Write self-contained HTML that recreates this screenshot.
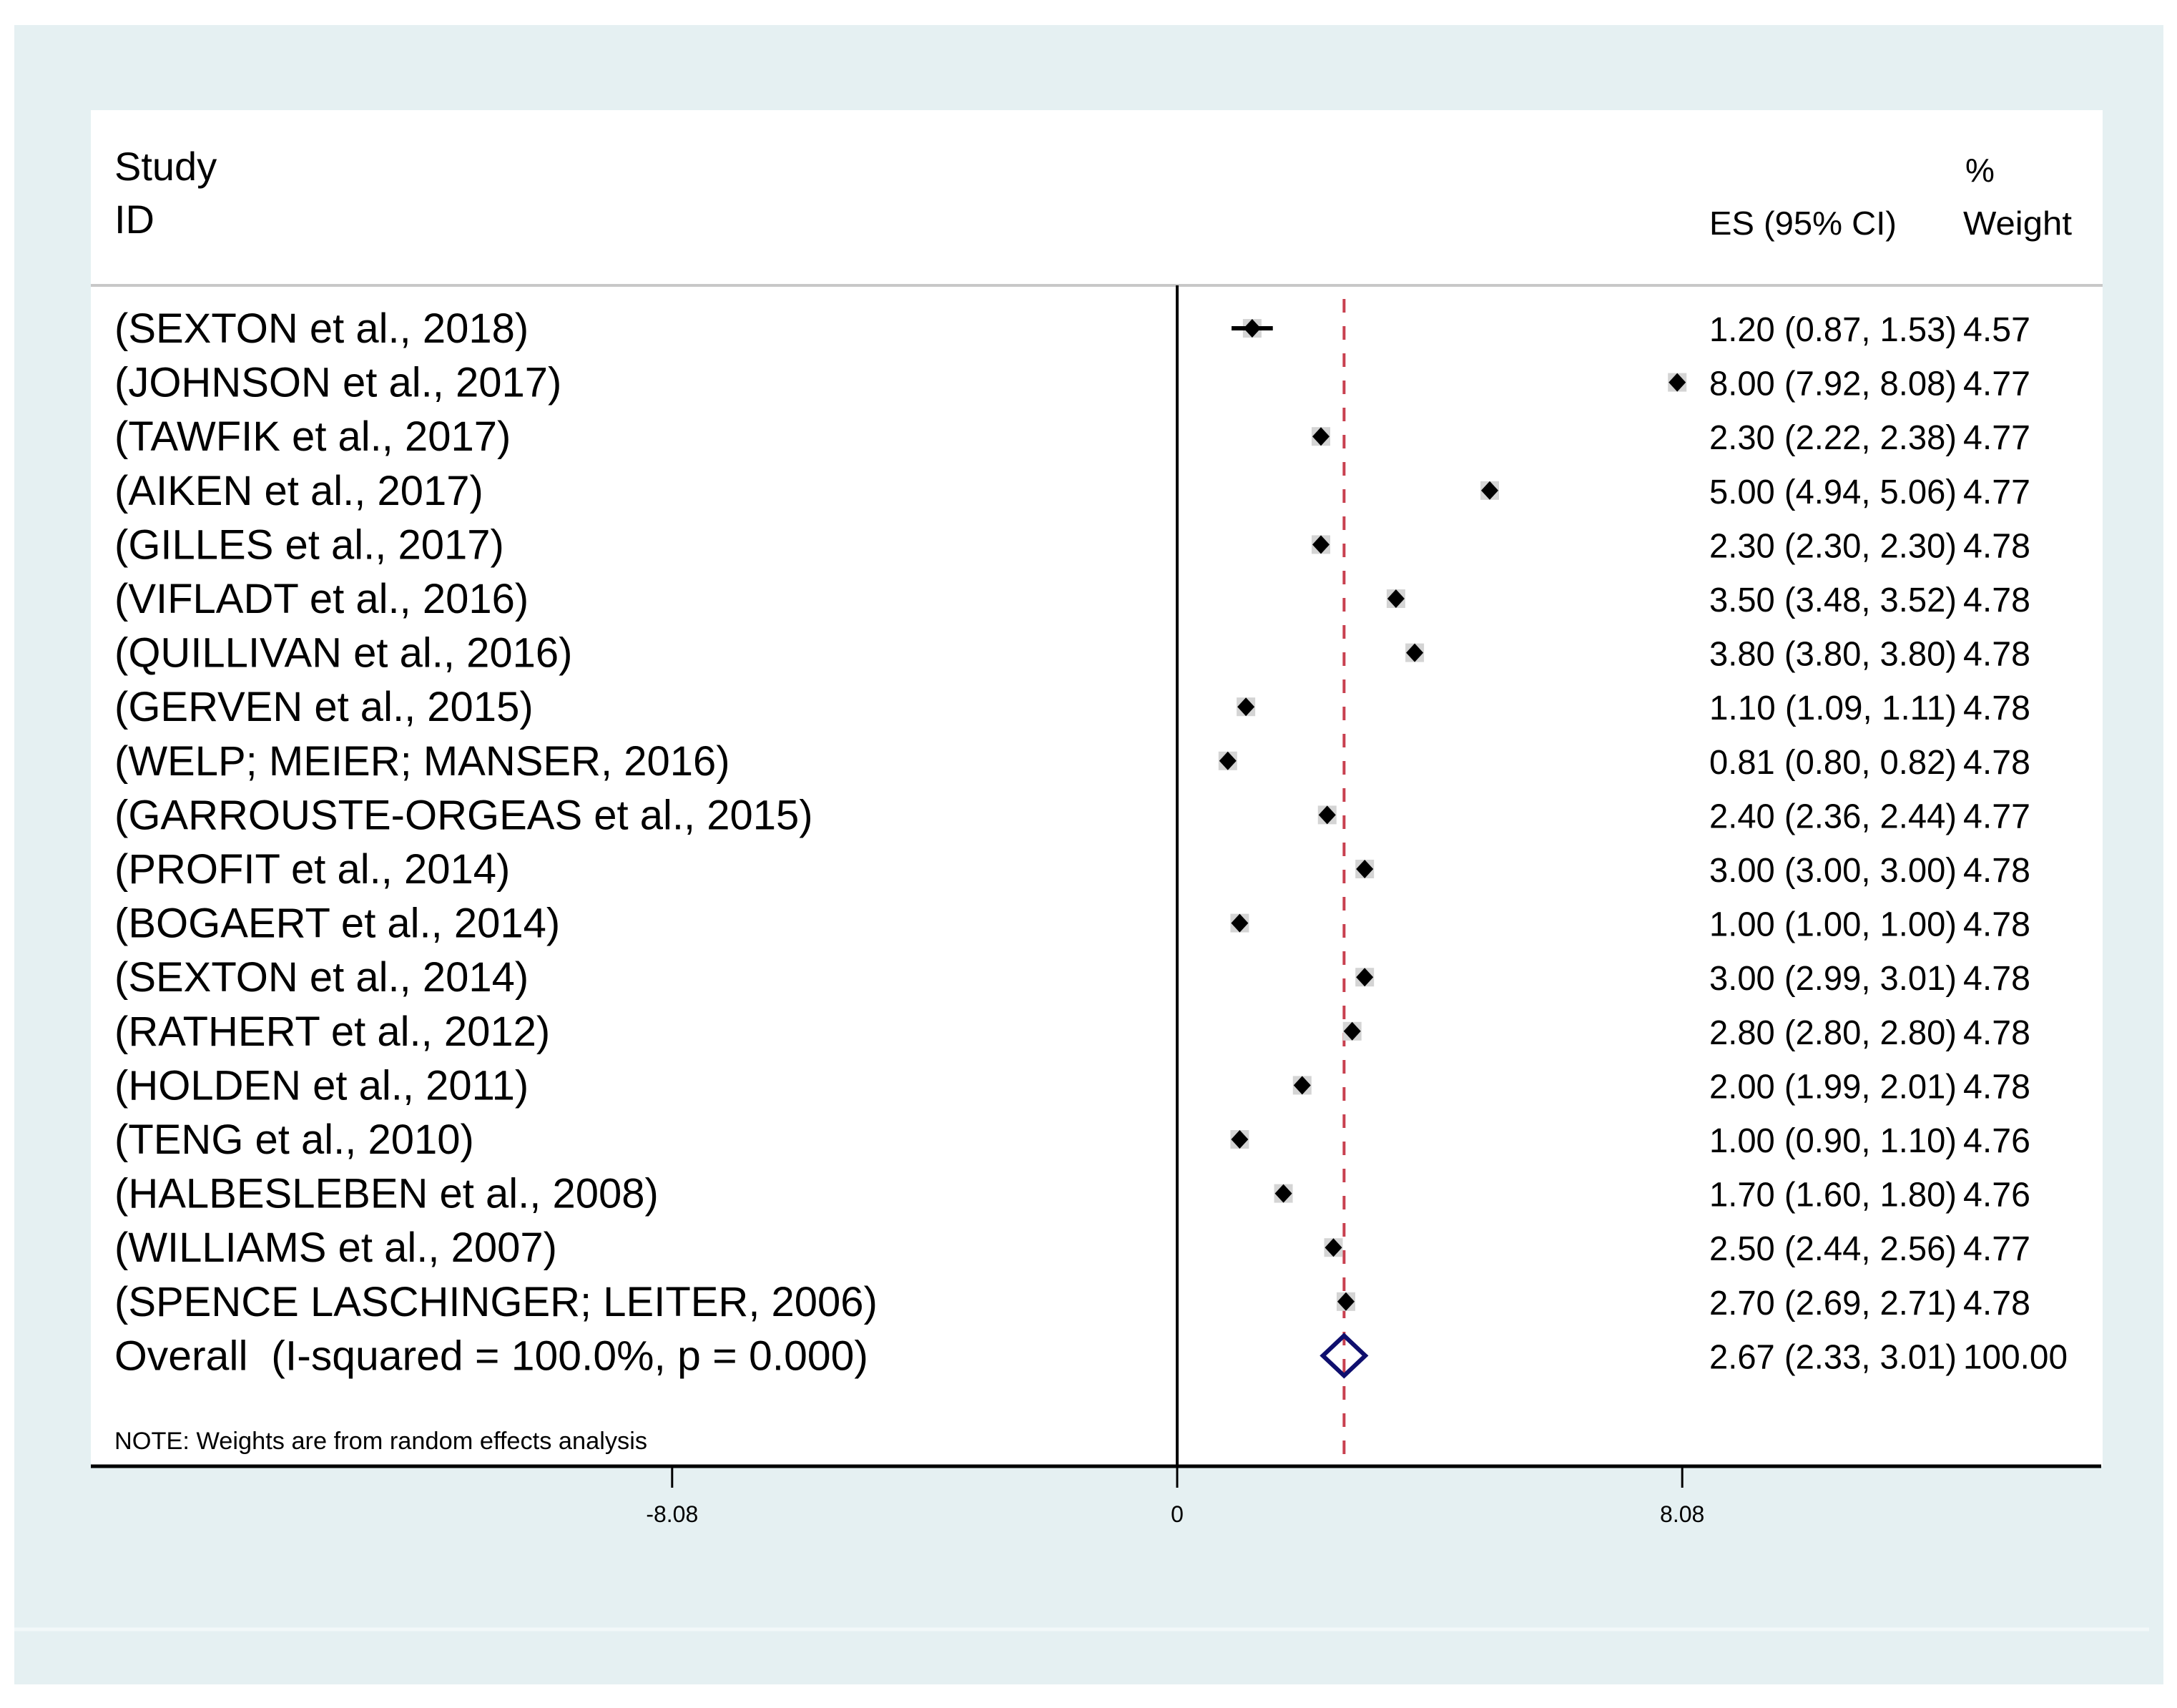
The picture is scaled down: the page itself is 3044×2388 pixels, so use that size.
<!DOCTYPE html>
<html><head><meta charset="utf-8"><style>
html,body{margin:0;padding:0;background:#fff;}
svg{display:block;font-family:"Liberation Sans",Arial,sans-serif;}
</style></head><body>
<svg id="chart" width="3044" height="2388" viewBox="0 0 3044 2388" xmlns="http://www.w3.org/2000/svg">
<rect x="20" y="35" width="3005" height="2320" fill="#e5f0f2"/>
<line x1="20" y1="2278" x2="3005" y2="2278" stroke="#f2f8f9" stroke-width="5"/>
<rect x="127" y="154" width="2813" height="1896" fill="#ffffff"/>
<line x1="127" y1="399" x2="2940" y2="399" stroke="#c8c8c8" stroke-width="4"/>
<text x="160" y="252" font-size="56" fill="#000">Study</text>
<text x="160" y="326" font-size="56" fill="#000">ID</text>
<text x="2748" y="254" font-size="46" fill="#000">%</text>
<text x="2390" y="328" font-size="46" fill="#000" textLength="262" lengthAdjust="spacingAndGlyphs">ES (95% CI)</text>
<text x="2745" y="328" font-size="46" fill="#000" textLength="152" lengthAdjust="spacingAndGlyphs">Weight</text>
<g id="marks"></g>
<text x="160" y="2026" font-size="34" fill="#000" textLength="745" lengthAdjust="spacingAndGlyphs">NOTE: Weights are from random effects analysis</text>
</svg>
<script>
const studies = ["(SEXTON et al., 2018)","(JOHNSON et al., 2017)","(TAWFIK et al., 2017)","(AIKEN et al., 2017)","(GILLES et al., 2017)","(VIFLADT et al., 2016)","(QUILLIVAN et al., 2016)","(GERVEN et al., 2015)","(WELP; MEIER; MANSER, 2016)","(GARROUSTE-ORGEAS et al., 2015)","(PROFIT et al., 2014)","(BOGAERT et al., 2014)","(SEXTON et al., 2014)","(RATHERT et al., 2012)","(HOLDEN et al., 2011)","(TENG et al., 2010)","(HALBESLEBEN et al., 2008)","(WILLIAMS et al., 2007)","(SPENCE LASCHINGER; LEITER, 2006)"];
const es = [1.20,8.00,2.30,5.00,2.30,3.50,3.80,1.10,0.81,2.40,3.00,1.00,3.00,2.80,2.00,1.00,1.70,2.50,2.70];
const lo = [0.87,7.92,2.22,4.94,2.30,3.48,3.80,1.09,0.80,2.36,3.00,1.00,2.99,2.80,1.99,0.90,1.60,2.44,2.69];
const hi = [1.53,8.08,2.38,5.06,2.30,3.52,3.80,1.11,0.82,2.44,3.00,1.00,3.01,2.80,2.01,1.10,1.80,2.56,2.71];
const weights = ["4.57","4.77","4.77","4.77","4.78","4.78","4.78","4.78","4.78","4.77","4.78","4.78","4.78","4.78","4.78","4.76","4.76","4.77","4.78"];
const overallEs = 2.67, overallLo = 2.33, overallHi = 3.01;
const overallLabel = "Overall\u00a0\u00a0(I-squared = 100.0%, p = 0.000)";
const overallWeight = "100.00";
const ticks = [-8.08, 0, 8.08];
const tickLabels = ["-8.08","0","8.08"];

const NS = "http://www.w3.org/2000/svg";
const g = document.getElementById("marks");
const x0 = 1646, unit = 87.4;
const X = v => x0 + v * unit;
const rowY0 = 459, rowStep = 75.6;
const Y = i => rowY0 + i * rowStep;
function mk(tag, attrs, parent){const e=document.createElementNS(NS,tag);for(const k in attrs)e.setAttribute(k,attrs[k]);(parent||g).appendChild(e);return e;}
function fmt(v){return v.toFixed(2);}

let el = mk("line",{x1:X(0),y1:399,x2:X(0),y2:2050,stroke:"#000","stroke-width":4});


el = mk("line",{x1:X(overallEs),y1:418,x2:X(overallEs),y2:2050,stroke:"#c8404f","stroke-width":4,"stroke-dasharray":"19 19"});



studies.forEach((s,i)=>{
  const y = Y(i);
  let t = mk("text",{x:160,y:y+20,"font-size":58,fill:"#000"}); t.textContent=s;
  
  
  let box = mk("rect",{x:X(es[i])-13,y:y-13,width:26,height:26,fill:"#d4d4d4"});
  
  
  let ci = mk("line",{x1:X(lo[i]),y1:y,x2:X(hi[i]),y2:y,stroke:"#000","stroke-width":6});
  
  
  const cx = X(es[i]);
  let pt = mk("polygon",{points:`${cx},${y-13} ${cx+12},${y} ${cx},${y+13} ${cx-12},${y}`,fill:"#000"});
  
  
  let e2 = mk("text",{x:2390,y:y+18,"font-size":48,fill:"#000",textLength:346,lengthAdjust:"spacingAndGlyphs"}); e2.textContent=`${fmt(es[i])} (${fmt(lo[i])}, ${fmt(hi[i])})`;
  
  
  let w = mk("text",{x:2745,y:y+18,"font-size":48,fill:"#000",textLength:94,lengthAdjust:"spacingAndGlyphs"}); w.textContent=weights[i];
  
  
});

const oy = Y(studies.length);
let ol = mk("text",{x:160,y:oy+20,"font-size":58,fill:"#000",textLength:1054,lengthAdjust:"spacingAndGlyphs"}); ol.textContent=overallLabel;


let dia = mk("polygon",{points:`${X(overallLo)},${oy} ${X(overallEs)},${oy-28} ${X(overallHi)},${oy} ${X(overallEs)},${oy+28}`,fill:"none",stroke:"#0f0f6e","stroke-width":6});


let oe = mk("text",{x:2390,y:oy+18,"font-size":48,fill:"#000",textLength:346,lengthAdjust:"spacingAndGlyphs"}); oe.textContent=`${fmt(overallEs)} (${fmt(overallLo)}, ${fmt(overallHi)})`;


let ow = mk("text",{x:2745,y:oy+18,"font-size":48,fill:"#000",textLength:146,lengthAdjust:"spacingAndGlyphs"}); ow.textContent=overallWeight;



let ax = mk("line",{x1:127,y1:2050,x2:2938,y2:2050,stroke:"#000","stroke-width":5});


ticks.forEach((v,i)=>{
  let tk = mk("line",{x1:X(v),y1:2050,x2:X(v),y2:2080,stroke:"#000","stroke-width":3});
  
  
  let tl = mk("text",{x:X(v),y:2128,"font-size":32,"text-anchor":"middle",fill:"#000"}); tl.textContent=tickLabels[i];
  
  
});
</script>
</body></html>
